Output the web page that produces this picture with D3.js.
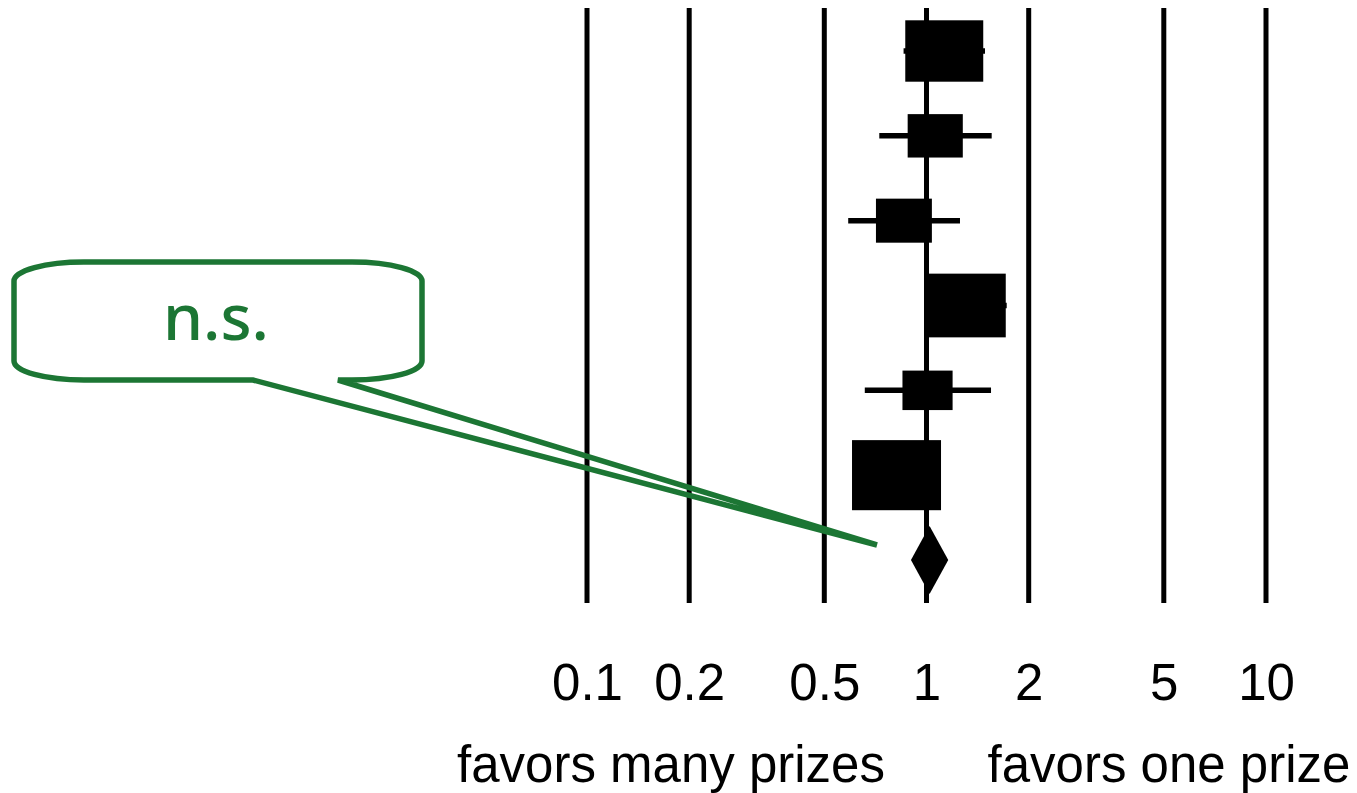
<!DOCTYPE html>
<html>
<head>
<meta charset="utf-8">
<script src="https://cdn.jsdelivr.net/npm/d3@7"></script>
<style>
  html, body { margin: 0; padding: 0; background: #fff; }
  svg { display: block; }
</style>
</head>
<body>
<div id="chart"></div>
<script>
// Study rows of the forest plot: point estimate, confidence interval and weight (%)
const studies = ["Study 1", "Study 2", "Study 3", "Study 4", "Study 5", "Study 6"];
const estimates = [1.128, 1.061, 0.858, 1.301, 1.007, 0.816];
const ciLow = [0.856, 0.726, 0.588, 0.990, 0.658, 0.640];
const ciHigh = [1.487, 1.556, 1.255, 1.723, 1.549, 1.060];
const weights = [20.8, 10.4, 10.7, 22.4, 8.6, 27.1];

// Pooled estimate (diamond)
const pooled = { est: 1.021, lo: 0.900, hi: 1.159 };

// Axis
const tickValues = [0.1, 0.2, 0.5, 1, 2, 5, 10];
const tickLabels = ["0.1", "0.2", "0.5", "1", "2", "5", "10"];
const sideLabels = ["favors many prizes", "favors one prize"];
const calloutText = "n.s.";

const W = 1357, H = 793;
const green = "#1c7634";

const svg = d3.select("#chart").append("svg")
  .attr("width", W).attr("height", H);

const x = d3.scaleLog().domain([0.1, 10]).range([587, 1266]);
const rows = [...studies, "Pooled"];
const y = d3.scalePoint().domain(rows).range([51, 560]);
const boxW = d3.scaleSqrt().domain([0, 27.1]).range([0, 89]);
const aspect = 1.27;

const plotTop = 8, plotBottom = 603;

// Reference lines at each tick
svg.append("g").selectAll("line")
  .data(tickValues)
  .join("line")
  .attr("x1", d => x(d)).attr("x2", d => x(d))
  .attr("y1", plotTop).attr("y2", plotBottom)
  .attr("stroke", "#000").attr("stroke-width", 5);

// Tick labels via a bottom axis without domain/tick lines
const axis = d3.axisBottom(x)
  .tickValues(tickValues)
  .tickFormat((d, i) => tickLabels[i])
  .tickSize(0)
  .tickPadding(0);
const ax = svg.append("g").attr("transform", "translate(0,663)").call(axis);
ax.select(".domain").remove();
ax.selectAll("text")
  .attr("dy", null)
  .attr("y", 37)
  .attr("fill", "#000")
  .style("font-family", "'Liberation Sans', Arial, sans-serif")
  .style("font-size", "51px");

// Side labels
svg.append("g").selectAll("text")
  .data(sideLabels)
  .join("text")
  .attr("x", (d, i) => [671, 1169][i])
  .attr("y", 782)
  .attr("text-anchor", "middle")
  .style("font-family", "'Liberation Sans', Arial, sans-serif")
  .style("font-size", "51px")
  .attr("fill", "#000")
  .text(d => d);

// Confidence interval whiskers
const rowData = studies.map((s, i) => ({
  s, est: estimates[i], lo: ciLow[i], hi: ciHigh[i], w: weights[i]
}));

svg.append("g").selectAll("line")
  .data(rowData)
  .join("line")
  .attr("x1", d => x(d.lo)).attr("x2", d => x(d.hi))
  .attr("y1", d => y(d.s)).attr("y2", d => y(d.s))
  .attr("stroke", "#000").attr("stroke-width", 5.5);

// Weighted boxes
svg.append("g").selectAll("rect")
  .data(rowData)
  .join("rect")
  .attr("x", d => x(d.est) - boxW(d.w) / 2)
  .attr("y", d => y(d.s) - boxW(d.w) / aspect / 2)
  .attr("width", d => boxW(d.w))
  .attr("height", d => boxW(d.w) / aspect)
  .attr("fill", "#000");

// Pooled diamond
const yp = y("Pooled");
svg.append("path")
  .attr("d", `M${x(pooled.lo)},${yp} L${x(pooled.est)},${yp - 34} L${x(pooled.hi)},${yp} L${x(pooled.est)},${yp + 34} Z`)
  .attr("fill", "#000");

// Speech-bubble callout pointing at the pooled estimate
const bx0 = 14, bx1 = 422, by0 = 262, by1 = 380, rx = 70, ry = 19;
const tipX = 877, tipY = 545;
const gapL = 253, gapR = 338;
const bubble = [
  `M${gapL},${by1}`,
  `L${bx0 + rx},${by1}`,
  `A${rx},${ry} 0 0 1 ${bx0},${by1 - ry}`,
  `L${bx0},${by0 + ry}`,
  `A${rx},${ry} 0 0 1 ${bx0 + rx},${by0}`,
  `L${bx1 - rx},${by0}`,
  `A${rx},${ry} 0 0 1 ${bx1},${by0 + ry}`,
  `L${bx1},${by1 - ry}`,
  `A${rx},${ry} 0 0 1 ${bx1 - rx},${by1}`,
  `L${gapR},${by1}`,
  `L${tipX},${tipY}`,
  `Z`
].join(" ");
svg.append("path")
  .attr("d", bubble)
  .attr("fill", "none")
  .attr("stroke", green)
  .attr("stroke-width", 5.5)
  .attr("stroke-linejoin", "miter");

svg.append("text")
  .attr("x", 216).attr("y", 340)
  .attr("text-anchor", "middle")
  .style("font-family", "'Noto Sans', 'DejaVu Sans', sans-serif")
  .style("font-weight", "500")
  .style("font-size", "64px")
  .attr("fill", green)
  .text(calloutText);
</script>
</body>
</html>
